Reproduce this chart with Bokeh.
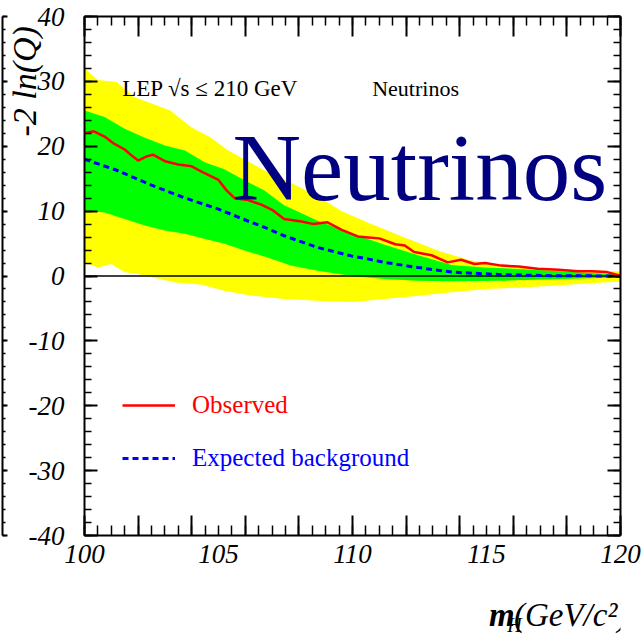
from bokeh.core.properties import value
from bokeh.embed import file_html
from bokeh.layouts import column
from bokeh.models import FixedTicker, Label, Legend, LegendItem, LinearAxis, Range1d
from bokeh.plotting import figure
from bokeh.resources import INLINE

# -2 ln(Q) versus Higgs mass, LEP combination, neutrino channel
obs_mass = [100.0, 100.35, 100.75, 101.1, 101.5, 101.75, 102.0, 102.3, 102.55, 103.0,
            103.5, 104.0, 104.5, 105.0, 105.3, 105.6, 106.1, 106.6, 107.0, 107.45,
            108.1, 108.55, 109.05, 109.6, 110.2, 110.6, 111.0, 111.6, 111.95, 112.3,
            112.95, 113.55, 114.05, 114.55, 114.95, 115.55, 116.2, 116.9, 117.7, 118.4,
            118.9, 119.5, 120.0]
obs_q = [22.0, 22.3, 21.5, 20.4, 19.5, 18.6, 17.8, 18.4, 18.7, 17.7,
         17.2, 16.9, 15.8, 14.8, 13.2, 12.0, 11.7, 11.0, 10.2, 8.8,
         8.4, 8.0, 8.3, 7.1, 6.1, 5.95, 5.8, 4.9, 4.7, 3.7,
         3.2, 2.1, 2.5, 1.85, 2.0, 1.6, 1.45, 1.1, 0.97, 0.72,
         0.72, 0.6, 0.05]

exp_mass = [100.0, 101.2, 102.5, 103.7, 105.0, 106.2, 106.6, 107.45, 108.7, 109.95,
            110.6, 111.2, 112.45, 113.7, 115.6, 117.4, 120.0]
exp_q = [18.0, 16.3, 14.0, 12.1, 10.3, 8.3, 7.7, 6.2, 4.4, 3.1,
         2.6, 2.1, 1.3, 0.6, 0.2, 0.05, 0.0]

# 1 sigma band around the background expectation
g_up_mass = [100.0, 100.75, 101.5, 102.25, 103.0, 103.75, 104.5, 105.2, 106.0, 106.7,
             107.45, 108.7, 109.95, 111.2, 112.45, 113.7, 114.95, 116.2, 117.45, 119.2, 120.0]
g_up = [25.5, 24.5, 22.7, 21.3, 20.1, 19.35, 17.5, 16.5, 14.7, 13.2,
        10.9, 8.5, 6.6, 4.8, 3.2, 1.7, 1.3, 1.08, 0.8, 0.4, 0.3]
g_lo_mass = [100.0, 100.75, 101.5, 102.25, 103.0, 103.75, 104.5, 105.2, 106.0, 106.8,
             107.7, 108.7, 110.0, 111.2, 112.45, 113.7, 115.6, 117.45, 119.2, 120.0]
g_lo = [10.1, 9.8, 8.8, 7.8, 7.0, 6.5, 5.7, 5.0, 3.9, 2.9,
        1.6, 0.8, 0.0, -0.47, -0.73, -0.8, -0.73, -0.5, -0.3, -0.25]

# 2 sigma band
y_up_mass = [100.0, 100.5, 101.2, 101.85, 102.5, 103.2, 104.0, 104.7, 105.35, 106.7,
             107.4, 108.7, 109.6, 110.7, 111.9, 113.2, 114.4, 115.7, 117.5, 120.0]
y_up = [32.0, 30.2, 29.9, 27.6, 26.6, 25.5, 22.9, 21.4, 19.4, 16.3,
        15.0, 12.3, 10.0, 8.0, 6.0, 3.9, 2.4, 1.7, 1.1, 0.7]
y_lo_mass = [100.0, 100.5, 101.0, 101.5, 102.0, 102.5, 103.4, 104.4, 105.2, 106.2,
             107.45, 108.7, 110.0, 111.2, 112.45, 113.7, 115.0, 116.2, 117.45, 119.3, 120.0]
y_lo = [2.1, 1.3, 1.85, 0.56, 0.3, -0.2, -1.0, -1.35, -2.27, -3.0,
        -3.55, -3.8, -4.0, -3.55, -3.04, -2.5, -2.0, -1.8, -1.5, -1.0, -0.9]

x_major = list(range(100, 121, 2))
x_minor = [100 + 0.5 * i for i in range(41)]
x_labels = [100, 105, 110, 115, 120]
y_major = list(range(-40, 41, 10))
y_minor = list(range(-40, 41, 2))

W = 644
MAIN_H, TITLE_H = 575, 60          # plot panel, then a strip for the x-axis title
FL, FR, FT, FB = 84, 620, 16, 535  # frame edges inside the plot panel
XR, YR = (100, 120), (-40, 40)


def dx(px):
    return XR[0] + (px - FL) * (XR[1] - XR[0]) / (FR - FL)


def dy(py):
    return YR[1] - (py - FT) * (YR[1] - YR[0]) / (FB - FT)


SERIF = "Liberation Serif"

p = figure(width=W, height=MAIN_H, x_range=Range1d(*XR), y_range=Range1d(*YR),
           x_axis_location=None, y_axis_location=None,
           output_backend="svg", toolbar_location=None,
           min_border_left=FL, min_border_right=W - FR,
           min_border_top=FT, min_border_bottom=MAIN_H - FB,
           outline_line_color=None, background_fill_color="white",
           border_fill_color="white")
p.grid.visible = False


def ticks_inside(ax, major, minor):
    ax.axis_line_color = "black"
    ax.axis_line_width = 2
    ax.major_tick_in = major
    ax.major_tick_out = 0
    ax.minor_tick_in = minor
    ax.minor_tick_out = 0
    ax.major_tick_line_width = 2
    ax.minor_tick_line_width = 1.5
    ax.major_tick_line_color = "black"
    ax.minor_tick_line_color = "black"


def hide_labels(ax):
    # tick marks only: no numbers drawn and no room taken for them
    ax.major_label_text_color = None
    ax.major_label_standoff = 0


def text_axis(ticks, texts, size, standoff, style="italic", orientation="horizontal"):
    """An axis with no line and no ticks, used only to place text beside the frame."""
    return LinearAxis(ticker=FixedTicker(ticks=ticks, minor_ticks=[]),
                      major_label_overrides=dict(zip(ticks, texts)),
                      major_label_orientation=orientation,
                      axis_line_color=None, major_tick_line_color=None,
                      minor_tick_line_color=None, major_tick_in=0, major_tick_out=0,
                      minor_tick_in=0, minor_tick_out=0, major_label_standoff=standoff,
                      major_label_text_font=SERIF, major_label_text_font_style=style,
                      major_label_text_font_size=size, major_label_text_color="black")


# x axis: tick marks on the frame, numbers underneath
bottom_ticks = LinearAxis(ticker=FixedTicker(ticks=x_major, minor_ticks=x_minor))
ticks_inside(bottom_ticks, 20, 10)
hide_labels(bottom_ticks)
p.add_layout(bottom_ticks, "below")
p.add_layout(text_axis(x_labels, [str(v) for v in x_labels], "27px", 9), "below")

top_ticks = LinearAxis(ticker=FixedTicker(ticks=x_major, minor_ticks=x_minor))
ticks_inside(top_ticks, 20, 9)
hide_labels(top_ticks)
p.add_layout(top_ticks, "above")

# y axis: ticks and numbers, then the rotated title near the top
left_axis = LinearAxis(ticker=FixedTicker(ticks=y_major, minor_ticks=y_minor),
                       major_label_overrides={v: str(v) for v in y_major},
                       major_label_standoff=20, major_label_text_font=SERIF,
                       major_label_text_font_style="italic",
                       major_label_text_font_size="27px", major_label_text_color="black")
ticks_inside(left_axis, 13, 7)
p.add_layout(left_axis, "left")
p.add_layout(text_axis([30], ["-2 ln(Q)"], "34px", -17, orientation="vertical"), "left")

# right-hand edge of the neighbouring panel, at the far left of the canvas
edge_axis = LinearAxis(ticker=FixedTicker(ticks=y_major, minor_ticks=y_minor))
ticks_inside(edge_axis, 5, 3)
hide_labels(edge_axis)
p.add_layout(edge_axis, "left")

right_axis = LinearAxis(ticker=FixedTicker(ticks=y_major, minor_ticks=y_minor))
ticks_inside(right_axis, 13, 7)
hide_labels(right_axis)
p.add_layout(right_axis, "right")

# bands, then the zero line, then the curves
p.patch(x=y_up_mass + y_lo_mass[::-1], y=y_up + y_lo[::-1],
        fill_color="#ffff00", line_color=None)
p.patch(x=g_up_mass + g_lo_mass[::-1], y=g_up + g_lo[::-1],
        fill_color="#00ff00", line_color=None)
p.line(x=[exp_mass[0], exp_mass[-1]], y=[0, 0], line_color="black", line_width=1.5)
r_exp = p.line(exp_mass, exp_q, line_color="#0000ff", line_width=3, line_dash="6 4")
r_obs = p.line(obs_mass, obs_q, line_color="#ff0000", line_width=2.5)


def one_item_legend(label, renderer, color, loc):
    return Legend(items=[LegendItem(label=label, renderers=[renderer])],
                  location=loc, border_line_color=None, background_fill_alpha=0,
                  padding=0, margin=0, spacing=0, glyph_width=53, glyph_height=30,
                  label_height=30, label_standoff=17, label_text_font=SERIF,
                  label_text_font_size="25px", label_text_color=color)


p.add_layout(one_item_legend("Observed", r_obs, "#ff0000", (38, 115)))
p.add_layout(one_item_legend("Expected background", r_exp, "#0000ff", (38, 62)))

texts = [
    Label(x=dx(121.7), y=dy(88.3), text="LEP \u221as \u2264 210 GeV",
          text_font_size="23px", text_color="black"),
    Label(x=dx(371.7), y=dy(88.3), text="Neutrinos", text_font_size="22px",
          text_color="black"),
    Label(x=dx(232), y=dy(167), text="Neutrinos", text_font_size="95px",
          text_color="#000080"),
]
for lab in texts:
    lab.text_font = SERIF
    lab.text_baseline = "alphabetic"
    p.add_layout(lab)

# x-axis title strip: one pixel per unit, y measured downward from the strip top
t = figure(width=W, height=TITLE_H, x_range=Range1d(0, W), y_range=Range1d(TITLE_H, 0),
           x_axis_location=None, y_axis_location=None, output_backend="svg",
           toolbar_location=None, min_border=0, outline_line_color=None,
           background_fill_color="white", border_fill_color="white")
t.grid.visible = False

title_parts = [  # (text, left x, baseline y, size, style)
    ("m", 486, 39, "33px", "bold italic"),
    ("H", 508, 49, "20px", "italic"),
    ("(GeV/c\u00b2)", 516, 39, "33px", "italic"),
]
for txt, x0, y0, size, style in title_parts:
    t.text(x=[x0], y=[y0], text=[txt], text_font=value(SERIF), text_font_size=size,
           text_font_style=style, text_color="black", text_align="left",
           text_baseline="alphabetic")

open("out.html", "w").write(file_html(column(p, t, spacing=0), INLINE))
